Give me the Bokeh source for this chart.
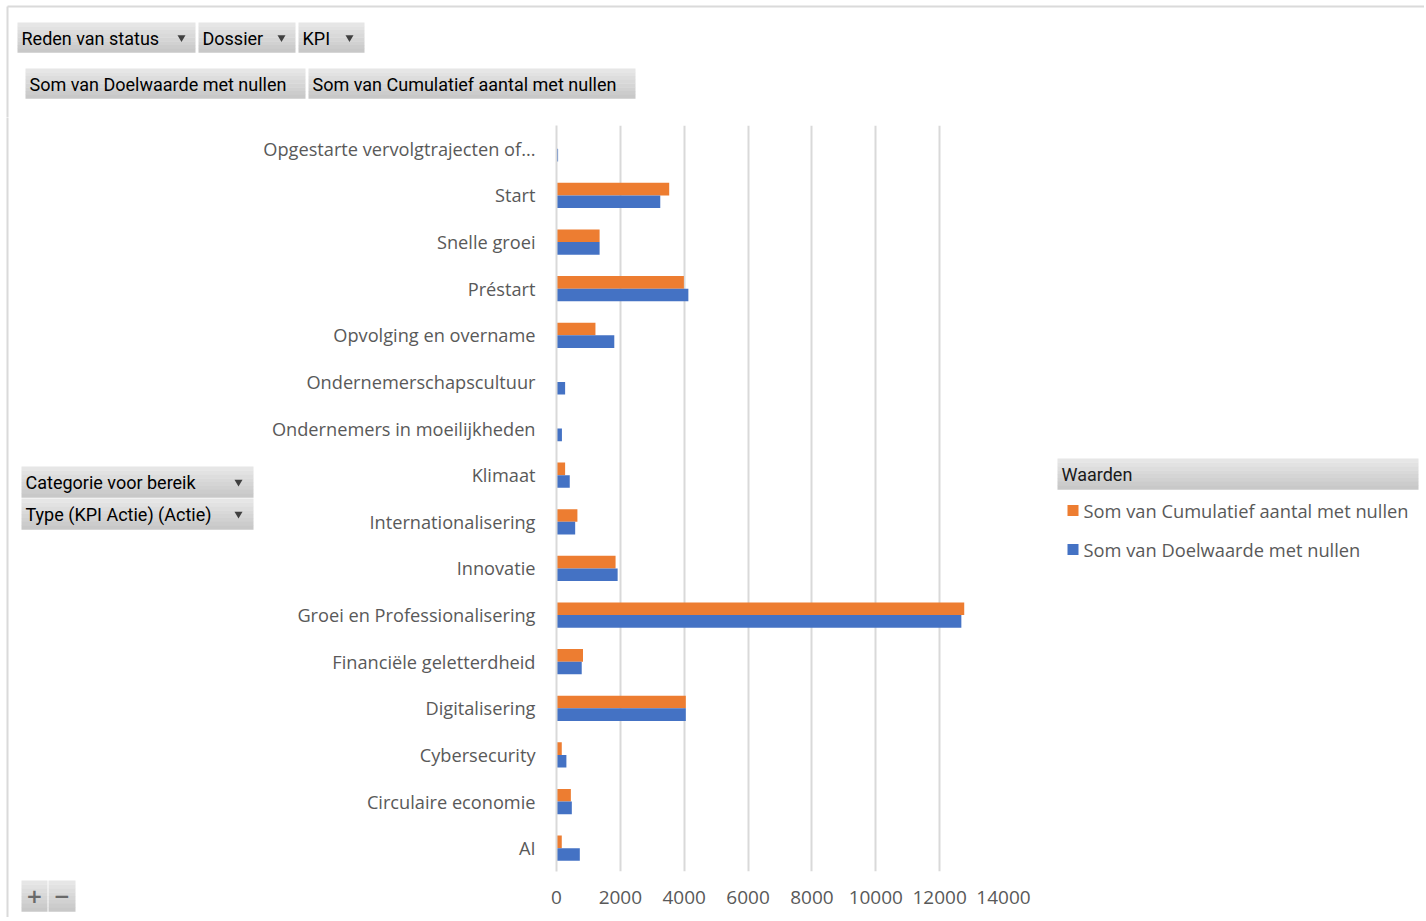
from bokeh.plotting import figure
from bokeh.models import ColumnDataSource, FactorRange, Range1d, FixedTicker
from bokeh.layouts import column, row
from bokeh.transform import dodge
from bokeh.core.properties import value
from bokeh.embed import file_html
from bokeh.resources import INLINE

# ---------------- data ----------------
categories = ["Opgestarte vervolgtrajecten of...", "Start", "Snelle groei", "Préstart",
              "Opvolging en overname", "Ondernemerschapscultuur",
              "Ondernemers in moeilijkheden", "Klimaat", "Internationalisering",
              "Innovatie", "Groei en Professionalisering", "Financiële geletterdheid",
              "Digitalisering", "Cybersecurity", "Circulaire economie", "AI"]
cumulatief = [0, 3530, 1350, 3990, 1220, 0, 0, 270, 655, 1850, 12770, 830, 4050, 165, 450, 165]
doelwaarde = [50, 3250, 1350, 4130, 1810, 270, 170, 415, 585, 1915, 12680, 790, 4050, 310, 480, 730]
x_ticks = [0, 2000, 4000, 6000, 8000, 10000, 12000, 14000]
series_names = ["Som van Cumulatief aantal met nullen", "Som van Doelwaarde met nullen"]
legend_title = "Waarden"
filter_fields = ["Reden van status", "Dossier", "KPI"]
value_fields = ["Som van Doelwaarde met nullen", "Som van Cumulatief aantal met nullen"]
row_fields = ["Categorie voor bereik", "Type (KPI Actie) (Actie)"]

# ---------------- styles ----------------
ORANGE = "#ED7D31"
BLUE = "#4472C4"
GRID = "#d9d9d9"
TXT = "#595959"
BORDER = "#dadada"
GRAD_TOP = (230, 230, 230)
GRAD_BOT = (200, 200, 200)
LABEL_FONT = "Open Sans"
BTN_FONT = "Roboto"

TOTAL_W, TOTAL_H = 1424, 917
TOP_H = 117
LEFT_W = 256
MAIN_W = 784
RIGHT_W = TOTAL_W - LEFT_W - MAIN_W
MID_H = TOTAL_H - TOP_H
# page coordinates of the chart frame
FL, FT, FR, FB = 556, 125, 1003, 871


def pixel_fig(x0, y0, w, h):
    f = figure(width=w, height=h, output_backend="svg", toolbar_location=None,
               x_range=Range1d(x0, x0 + w), y_range=Range1d(y0 + h, y0),
               min_border=0, outline_line_color=None, frame_align=False)
    f.axis.visible = False
    f.grid.visible = False
    return f


def border_lines(f):
    f.line(x=[7, 7], y=[6, 930], line_color=BORDER, line_width=2)
    f.line(x=[7, 1430], y=[6, 6], line_color=BORDER, line_width=2)


def gradient_box(f, x0, y0, x1, y1, n=8):
    h = (y1 - y0) / n
    for i in range(n):
        t = i / (n - 1)
        c = tuple(int(round(a + (b - a) * t)) for a, b in zip(GRAD_TOP, GRAD_BOT))
        f.quad(left=x0, right=x1, top=y0 + i * h, bottom=y0 + (i + 1) * h + 0.3,
               fill_color="#%02x%02x%02x" % c, line_color=None)


def button(f, x0, y0, x1, y1, text, arrow=None, color="black", size="18px", font=BTN_FONT,
           pad=4):
    ym = (y0 + y1) / 2
    gradient_box(f, x0, y0, x1, y1)
    f.text(x=x0 + pad, y=ym + 0.5, text=[text], text_font=value(font),
           text_font_size=value(size), text_color=color, text_baseline="middle",
           text_align="left")
    if arrow is not None:
        f.scatter(x=arrow, y=ym, marker="inverted_triangle", size=8, fill_color="#404040",
                  line_color=None)


def symbol_button(f, x0, y0, x1, y1, text, size, color):
    ym = (y0 + y1) / 2
    gradient_box(f, x0, y0, x1, y1)
    f.text(x=(x0 + x1) / 2, y=ym, text=[text], text_font=value("DejaVu Sans"),
           text_font_size=value(size), text_color=color, text_baseline="middle",
           text_align="center", text_font_style="bold")


# ---------------- top strip ----------------
top = pixel_fig(0, 0, TOTAL_W, TOP_H)
border_lines(top)
button(top, 17, 22, 195, 52, filter_fields[0], arrow=181)
button(top, 198, 22, 295, 52, filter_fields[1], arrow=281)
button(top, 298, 22, 364, 52, filter_fields[2], arrow=349)
button(top, 25, 68, 305, 98, value_fields[0])
button(top, 308, 68, 635, 98, value_fields[1])

# ---------------- left strip ----------------
left = pixel_fig(0, TOP_H, LEFT_W, MID_H)
border_lines(left)
button(left, 21, 466, 253, 497, row_fields[0], arrow=238)
button(left, 21, 498, 253, 529, row_fields[1], arrow=238)
symbol_button(left, 21, 880, 47, 911, "+", "20px", "#6a6a6a")
symbol_button(left, 48, 880, 75, 911, "−", "20px", "#6a6a6a")

# ---------------- main chart ----------------
src = ColumnDataSource(data=dict(cat=categories, cum=cumulatief, doel=doelwaarde))

p = figure(width=MAIN_W, height=MID_H, output_backend="svg", toolbar_location=None,
           y_range=FactorRange(factors=list(reversed(categories))),
           x_range=Range1d(0, 14000), frame_align=False,
           min_border_left=FL - LEFT_W, min_border_right=LEFT_W + MAIN_W - FR,
           min_border_top=FT - TOP_H, min_border_bottom=TOTAL_H - FB)
p.outline_line_color = None

p.hbar(y=dodge("cat", 0.135, range=p.y_range), right="cum", height=0.27,
       source=src, color=ORANGE, line_color=None)
p.hbar(y=dodge("cat", -0.135, range=p.y_range), right="doel", height=0.27,
       source=src, color=BLUE, line_color=None)

p.xaxis.ticker = FixedTicker(ticks=x_ticks)
p.xaxis.axis_line_color = None
p.xaxis.major_tick_line_color = None
p.xaxis.minor_tick_line_color = None
p.xaxis.major_tick_out = 0
p.xaxis.major_tick_in = 0
p.xaxis.major_label_text_font = LABEL_FONT
p.xaxis.major_label_text_font_size = "19px"
p.xaxis.major_label_text_color = TXT
p.xaxis.major_label_standoff = 19

p.yaxis.axis_line_color = GRID
p.yaxis.axis_line_width = 2
p.yaxis.major_tick_line_color = None
p.yaxis.minor_tick_line_color = None
p.yaxis.major_tick_out = 0
p.yaxis.major_tick_in = 0
p.yaxis.major_label_text_font = LABEL_FONT
p.yaxis.major_label_text_font_size = "18.2px"
p.yaxis.major_label_text_color = TXT
p.yaxis.major_label_standoff = 21

p.xgrid.grid_line_color = GRID
p.xgrid.grid_line_width = 2
p.ygrid.grid_line_color = None

# ---------------- right strip (legend) ----------------
right = pixel_fig(LEFT_W + MAIN_W, TOP_H, RIGHT_W, MID_H)
gradient_box(right, 1057, 458, 1418, 489)
right.text(x=1061, y=474, text=[legend_title], text_font=value(BTN_FONT),
           text_font_size=value("18px"), text_color="#1a1a1a", text_baseline="middle")
legend_colors = [ORANGE, BLUE]
legend_rows = [510, 549]
for name, col, ym in zip(series_names, legend_colors, legend_rows):
    right.quad(left=1067, right=1078, top=ym - 5.5, bottom=ym + 5.5, fill_color=col,
               line_color=None)
    right.text(x=1083, y=ym, text=[name], text_font=value(LABEL_FONT),
               text_font_size=value("18.3px"), text_color=TXT, text_baseline="middle")

layout = column(top, row(left, p, right, spacing=0), spacing=0)
open("out.html", "w").write(file_html(layout, INLINE))
